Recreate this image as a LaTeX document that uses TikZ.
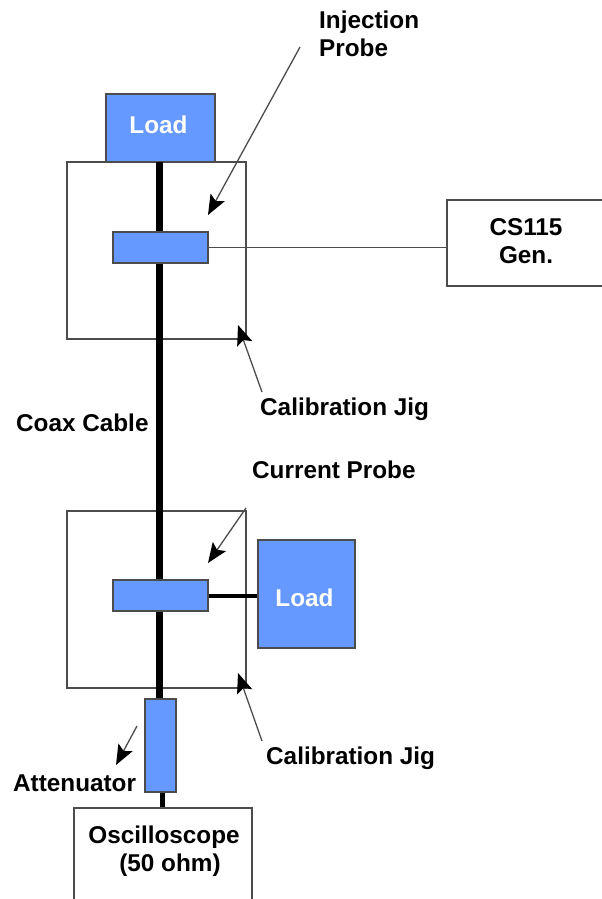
\documentclass[tikz,border=0pt]{standalone}
\usepackage{fontspec}
\setmainfont{Liberation Sans}
\usetikzlibrary{arrows.meta}

\begin{document}
\begin{tikzpicture}[
  x=1pt,y=-1pt,
  font=\fontsize{24.3}{28}\selectfont\bfseries,
  box/.style={
    draw=black!70,
    line width=1.2pt,
    inner sep=0pt,
    align=center
  },
  jig/.style={box,minimum width=179pt,minimum height=177pt},
  part/.style={box,fill=partblue},
  label/.style={inner sep=0pt,align=left,text=black},
  midlabel/.style={inner sep=0pt,align=center,text=black},
  loadlabel/.style={inner sep=0pt,text=white},
  cable/.style={line width=7pt,black},
  pointer/.style={-{Stealth[length=20pt,width=16pt,inset=4pt,color=black]},line width=1.3pt,black!70}
]
  \definecolor{partblue}{HTML}{6699FF}
  \useasboundingbox (0,0) rectangle (602,899);

  \node[jig] (jigA) at (156.5,250.5) {};
  \node[jig] (jigB) at (156.5,599.5) {};

  \node[part,minimum width=109pt,minimum height=68pt] (loadA) at (160.5,128) {};
  \node[loadlabel] (loadtextA) at (158.5,125) {Load};
  \node[part,minimum width=97pt,minimum height=108pt] (loadB) at (306.5,594) {};
  \node[loadlabel] (loadtextB) at (304.5,598) {Load};
  \node[box,minimum width=160pt,minimum height=86pt] (gen) at (527,243) {};
  \node[midlabel] (gentext) at (526,241) {CS115\\Gen.};
  \node[box,minimum width=178pt,minimum height=104pt] (scope) at (163,860) {};
  \node[midlabel] (scopetext) at (164,851) {Oscilloscope\\\hspace*{12pt}(50 ohm)};

  % cable runs
  \coordinate (cableA) at (159,162);
  \coordinate (cableB) at (159,232);
  \coordinate (cableC) at (159,263);
  \coordinate (cableD) at (159,580);
  \coordinate (cableE) at (159,611);
  \coordinate (cableF) at (159,699);
  \draw[cable] (cableA) -- (cableB);
  \draw[cable] (cableC) -- (cableD);
  \draw[cable] (cableE) -- (cableF);

  \node[part,minimum width=95pt,minimum height=31pt] (probeA) at (160.5,247.5) {};
  \node[part,minimum width=95pt,minimum height=31pt] (probeB) at (160.5,595.5) {};
  \node[part,minimum width=31pt,minimum height=93pt] (atten) at (160.5,745.5) {};

  \draw[line width=1.2pt,black!70] (probeA.east) -- (probeA.east -| gen.west);
  \draw[line width=4pt] (probeB.east) -- (loadB.west |- probeB.east);
  \draw[line width=5pt] ([xshift=1.5pt]atten.south) -- ([xshift=1.5pt]atten.south |- scope.north);

  \node[label,anchor=west] (injlabel) at (319,33.5) {Injection\\Probe};
  \node[label,anchor=west] (coaxlabel) at (16,423) {Coax Cable};
  \node[label,anchor=west] (jiglabelA) at (260,409) {Calibration Jig};
  \node[label,anchor=west] (currlabel) at (252,470) {Current Probe};
  \node[label,anchor=west] (jiglabelB) at (266,758) {Calibration Jig};
  \node[label,anchor=west] (attlabel) at (13,783) {Attenuator};

  \coordinate (injstart) at (300,47);
  \coordinate (injend) at (208,215);
  \coordinate (jigstartA) at (262,392);
  \coordinate (jigendA) at (238,325);
  \coordinate (currstart) at (246,508);
  \coordinate (currend) at (208,563);
  \coordinate (jigstartB) at (262,741);
  \coordinate (jigendB) at (238,673);
  \coordinate (attstart) at (137,726);
  \coordinate (attend) at (116,765);

  \draw[pointer] (injstart) -- (injend);
  \draw[pointer] (jigstartA) -- (jigendA);
  \draw[pointer] (currstart) -- (currend);
  \draw[pointer] (jigstartB) -- (jigendB);
  \draw[pointer] (attstart) -- (attend);
\end{tikzpicture}
\end{document}
